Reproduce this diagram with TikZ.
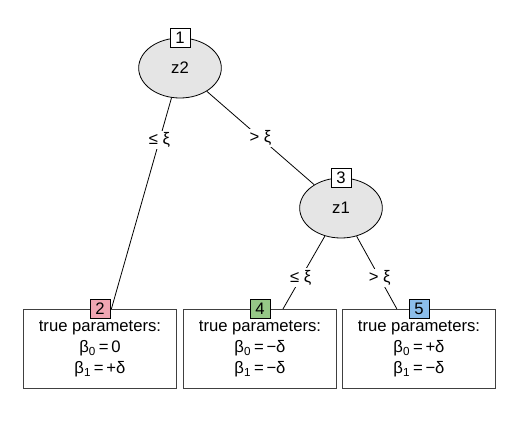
\documentclass[tikz,border=0pt]{standalone}
\usepackage{fontspec}
\setmainfont{Liberation Sans}
\usepackage{xcolor}
\usetikzlibrary{shapes.geometric}
\definecolor{leafpink}{RGB}{240,165,178}
\definecolor{leafgreen}{RGB}{150,200,135}
\definecolor{leafblue}{RGB}{140,190,235}
\newcommand{\treefont}{\fontsize{12.5pt}{15.75pt}\selectfont}
\tikzset{
  splitnode/.style={ellipse, draw=black, fill=black!10, line width=0.6pt,
    minimum width=62pt, minimum height=45pt, inner sep=0pt, font=\treefont},
  leafnode/.style={rectangle, draw=black!75, fill=white, line width=0.9pt,
    minimum width=114.75pt, minimum height=59.25pt, align=center, font=\treefont},
  idbox/.style={rectangle, draw=black, fill=white, line width=0.6pt,
    minimum width=15pt, minimum height=14.25pt, inner sep=0pt, font=\treefont},
  edgeline/.style={draw=black, line width=0.6pt},
  splitlabel/.style={fill=white, inner sep=1.5pt, font=\treefont}
}

\begin{document}
\begin{tikzpicture}[x=0.75pt, y=-0.75pt]
  \useasboundingbox (0,0) rectangle (520,439);

  \node[splitnode] (n1) at (180,68) {z2};
  \node[splitnode] (n3) at (341,208) {z1};
  \node[leafnode] (leaf2) at (100,349) {true parameters:\\ β\textsubscript{0}\,=\,0\\ β\textsubscript{1}\,=\,+δ};
  \node[leafnode] (leaf4) at (260,349) {true parameters:\\ β\textsubscript{0}\,=\,−δ\\ β\textsubscript{1}\,=\,−δ};
  \node[leafnode] (leaf5) at (419,349) {true parameters:\\ β\textsubscript{0}\,=\,+δ\\ β\textsubscript{1}\,=\,−δ};

  \draw[edgeline] (n1) -- node[splitlabel, pos=0.2] {≤ ξ} (leaf2);
  \draw[edgeline] (n1) -- node[splitlabel, pos=0.5] {> ξ} (n3);
  \draw[edgeline] (n3) -- node[splitlabel, pos=0.575] {≤ ξ} (leaf4);
  \draw[edgeline] (n3) -- node[splitlabel, pos=0.575] {> ξ} (leaf5);

  % node ids
  \node[idbox] (t1) at (n1.north) {1};
  \node[idbox] (t3) at (n3.north) {3};
  \node[idbox, fill=leafpink] (t2) at (leaf2.north) {2};
  \node[idbox, fill=leafgreen] (t4) at (leaf4.north) {4};
  \node[idbox, fill=leafblue] (t5) at (leaf5.north) {5};
\end{tikzpicture}
\end{document}
